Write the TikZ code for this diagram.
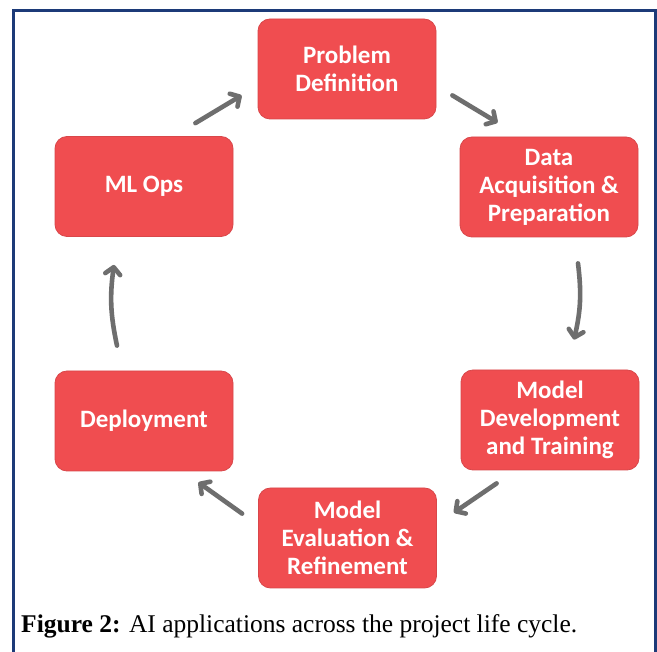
\documentclass[tikz,border=0pt]{standalone}
\usepackage{fontspec}
\setmainfont{Liberation Serif}
\newfontfamily\boxfont{Carlito}
\usetikzlibrary{arrows.meta,calc}
\definecolor{boxred}{HTML}{F04D50}
\definecolor{boxedge}{HTML}{D9474A}
\definecolor{arrgray}{HTML}{6E6E6E}
\definecolor{framenavy}{HTML}{1C3A78}
\tikzset{
  stage/.style={rectangle, rounded corners=12pt, fill=boxred, draw=boxedge, line width=0.8pt,
    minimum width=178pt, minimum height=100pt, inner sep=0pt, align=center,
    text=white, font=\boxfont\bfseries\fontsize{25}{28}\selectfont},
  flow/.style={draw=arrgray, line width=4.6pt, line cap=round,
    -{Straight Barb[length=7pt,width=15pt,line cap=round,line join=round]}},
}
\begin{document}
\begin{tikzpicture}[x=1pt,y=-1pt]
\useasboundingbox (0,0) rectangle (657,652);
\fill[white] (0,0) rectangle (657,652);
% frame
\draw[framenavy, line width=3pt] (13.5,653) -- (13.5,10.5) -- (655.5,10.5) -- (655.5,653);
% stages
\node[stage] (pd) at (347,69) {Problem\\Definition};
\node[stage] (da) at (549,187) {Data\\Acquisition \&\\Preparation};
\node[stage] (md) at (550,420) {Model\\Development\\and Training};
\node[stage] (me) at (347.5,538) {Model\\Evaluation \&\\Refinement};
\node[stage] (de) at (144,421) {Deployment};
\node[stage] (ml) at (144,186.5) {ML Ops};
% connectors
\draw[flow] ($(ml.north east)+(-38,-13)$) -- ($(pd.south west)+(-16,-24)$);
\draw[flow] ($(pd.south east)+(16,-24)$) -- ($(da.north west)+(38,-14)$);
\draw[flow] ($(da.south)+(29,26)$) to[bend left=10] ($(md.north)+(24,-30)$);
\draw[flow] ($(md.south west)+(36,13)$) -- ($(me.north east)+(17,25)$);
\draw[flow] ($(me.north west)+(-16,26)$) -- ($(de.south east)+(-35,11)$);
\draw[flow] ($(de.north)+(-27,-25)$) to[bend left=10] ($(ml.south)+(-30,28)$);
% caption
\node[anchor=base west, inner sep=0pt] (cap) at (21,633)
  {\resizebox{556pt}{!}{\textbf{Figure 2:} AI applications across the project life cycle.}};
\end{tikzpicture}
\end{document}
